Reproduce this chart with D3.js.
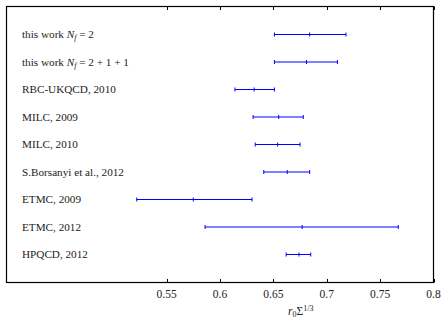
<!DOCTYPE html>
<html>
<head>
<meta charset="utf-8">
<script src="https://cdn.jsdelivr.net/npm/d3@7"></script>
<style>
  body { margin: 0; background: #fff; }
  text { font-family: "Liberation Serif", "DejaVu Serif", serif; fill: #222; }
</style>
</head>
<body>
<svg id="chart" width="445" height="320"></svg>
<script>
// labels top to bottom (math: italic N with subscript f)
const labels = [
    {pre: "this work ", math: true, post: " = 2"},
    {pre: "this work ", math: true, post: " = 2 + 1 + 1"},
    {pre: "RBC-UKQCD, 2010"},
    {pre: "MILC, 2009"},
    {pre: "MILC, 2010"},
    {pre: "S.Borsanyi et al., 2012"},
    {pre: "ETMC, 2009"},
    {pre: "ETMC, 2012"},
    {pre: "HPQCD, 2012"}
];
const centers = [0.684, 0.681, 0.632, 0.655, 0.654, 0.663, 0.575, 0.677, 0.674];
const lows    = [0.651, 0.651, 0.614, 0.631, 0.633, 0.641, 0.522, 0.586, 0.662];
const highs   = [0.718, 0.710, 0.651, 0.678, 0.675, 0.684, 0.630, 0.767, 0.685];
const tickValues = [0.55, 0.6, 0.65, 0.7, 0.75, 0.8];

const svg = d3.select("#chart");
const plotLeft = 6.5, plotRight = 433.5, plotTop = 6.5, plotBottom = 282.5;

const x = d3.scaleLinear().domain([0.4, 0.8]).range([plotLeft, plotRight]);
const y = d3.scalePoint()
    .domain(d3.range(labels.length))
    .range([34.5, 254.5]);

// frame
svg.append("rect")
    .attr("x", plotLeft).attr("y", plotTop)
    .attr("width", plotRight - plotLeft).attr("height", plotBottom - plotTop)
    .attr("fill", "none").attr("stroke", "#000").attr("stroke-width", 1.2);

// ticks (inward, top and bottom)
let tickG = svg.append("g");
tickValues.forEach(function (t) {
    let xp = Math.round(x(t)) + 0.5;
    tickG.append("line").attr("x1", xp).attr("x2", xp)
        .attr("y1", plotBottom).attr("y2", plotBottom - 3.5)
        .attr("stroke", "#000").attr("stroke-width", 1);
    tickG.append("line").attr("x1", xp).attr("x2", xp)
        .attr("y1", plotTop).attr("y2", plotTop + 3.5)
        .attr("stroke", "#000").attr("stroke-width", 1);
    tickG.append("text")
        .attr("x", x(t)).attr("y", 298)
        .attr("text-anchor", "middle")
        .attr("font-size", 11.5)
        .text(t.toString());
});

// axis title r0 Σ^{1/3}
let title = svg.append("text").attr("x", 288).attr("y", 315).attr("font-size", 11.5);
title.append("tspan").attr("font-style", "italic").text("r");
title.append("tspan").attr("font-size", 8).attr("dy", 2).text("0");
title.append("tspan").attr("dy", -2).text("Σ");
title.append("tspan").attr("font-size", 8).attr("dy", -4.5).text("1/3");

// error bars
let barsG = svg.append("g");
centers.forEach(function (c, i) {
    let yp = y(i);
    barsG.append("line")
        .attr("x1", x(lows[i])).attr("x2", x(highs[i]))
        .attr("y1", yp).attr("y2", yp)
        .attr("stroke", "#0000ff").attr("stroke-width", 1);
    [lows[i], c, highs[i]].forEach(function (v) {
        barsG.append("line")
            .attr("x1", x(v)).attr("x2", x(v))
            .attr("y1", yp - 2).attr("y2", yp + 2)
            .attr("stroke", "#0000ff").attr("stroke-width", 1);
    });
});

// labels
let labelG = svg.append("g");
labels.forEach(function (d, i) {
    let t = labelG.append("text")
        .attr("x", 22).attr("y", y(i) + 3.5)
        .attr("font-size", 11.2);
    t.append("tspan").text(d.pre);
    if (d.math) {
        t.append("tspan").attr("font-style", "italic").text("N");
        t.append("tspan").attr("font-style", "italic").attr("font-size", 8).attr("dy", 2).text("f");
        t.append("tspan").attr("dy", -2)
            .text(d.post.replace(/ /g, "\u2005"));
    }
});
</script>
</body>
</html>
